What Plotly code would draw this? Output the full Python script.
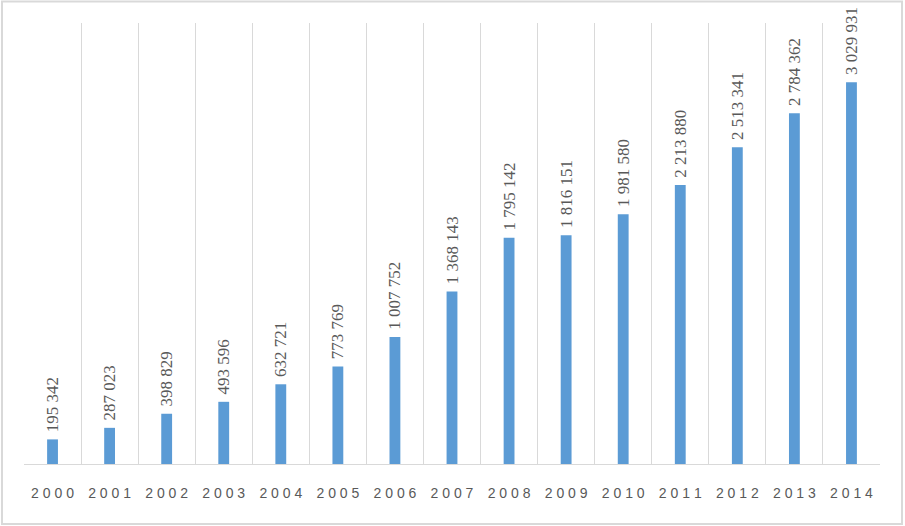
import plotly.graph_objects as go

years = ["2000", "2001", "2002", "2003", "2004", "2005", "2006", "2007",
         "2008", "2009", "2010", "2011", "2012", "2013", "2014"]
values = [195342, 287023, 398829, 493596, 632721, 773769, 1007752, 1368143,
          1795142, 1816151, 1981580, 2213880, 2513341, 2784362, 3029931]
tick_labels = [" ".join(y) for y in years]
value_labels = ["\u00a0" + f"{v:,}".replace(",", " ") for v in values]

W, H = 905, 526
ml, mr, mt, mb = 24, 25, 23, 62
pw, ph = W - ml - mr, H - mt - mb

fig = go.Figure(go.Bar(
    x=years, y=values,
    marker=dict(color="#5B9BD5", line=dict(width=0)),
    width=0.19,
    text=value_labels,
    textposition="outside",
    textangle=-90,
    constraintext="none",
    cliponaxis=False,
    textfont=dict(family="Liberation Serif, Times New Roman, serif", size=17, color="#595959"),
    hoverinfo="skip",
))

fig.update_layout(
    width=W, height=H,
    margin=dict(l=ml, r=mr, t=mt, b=mb),
    paper_bgcolor="white", plot_bgcolor="white",
    showlegend=False,
    xaxis=dict(
        type="category",
        tickson="boundaries",
        tickmode="array", tickvals=years, ticktext=tick_labels,
        showgrid=True, gridcolor="#d9d9d9", gridwidth=1,
        showline=True, linecolor="#d9d9d9", linewidth=1,
        ticks="", ticklen=0,
        ticklabelstandoff=16,
        tickfont=dict(family="Liberation Sans, Arial", size=14, color="#595959"),
        range=[-0.5, 14.5],
    ),
    yaxis=dict(
        range=[0, 3500000],
        showgrid=False, zeroline=False, showticklabels=False, showline=False,
    ),
    bargap=0.81,
    shapes=[dict(
        type="rect", xref="paper", yref="paper",
        x0=(2 - ml) / pw, x1=(902 - ml) / pw,
        y0=-(524 - mt - ph) / ph, y1=1 + (mt - 1.5) / ph,
        line=dict(color="#d9d9d9", width=2),
        fillcolor="rgba(0,0,0,0)",
    )],
)

fig.write_html("out.html")
